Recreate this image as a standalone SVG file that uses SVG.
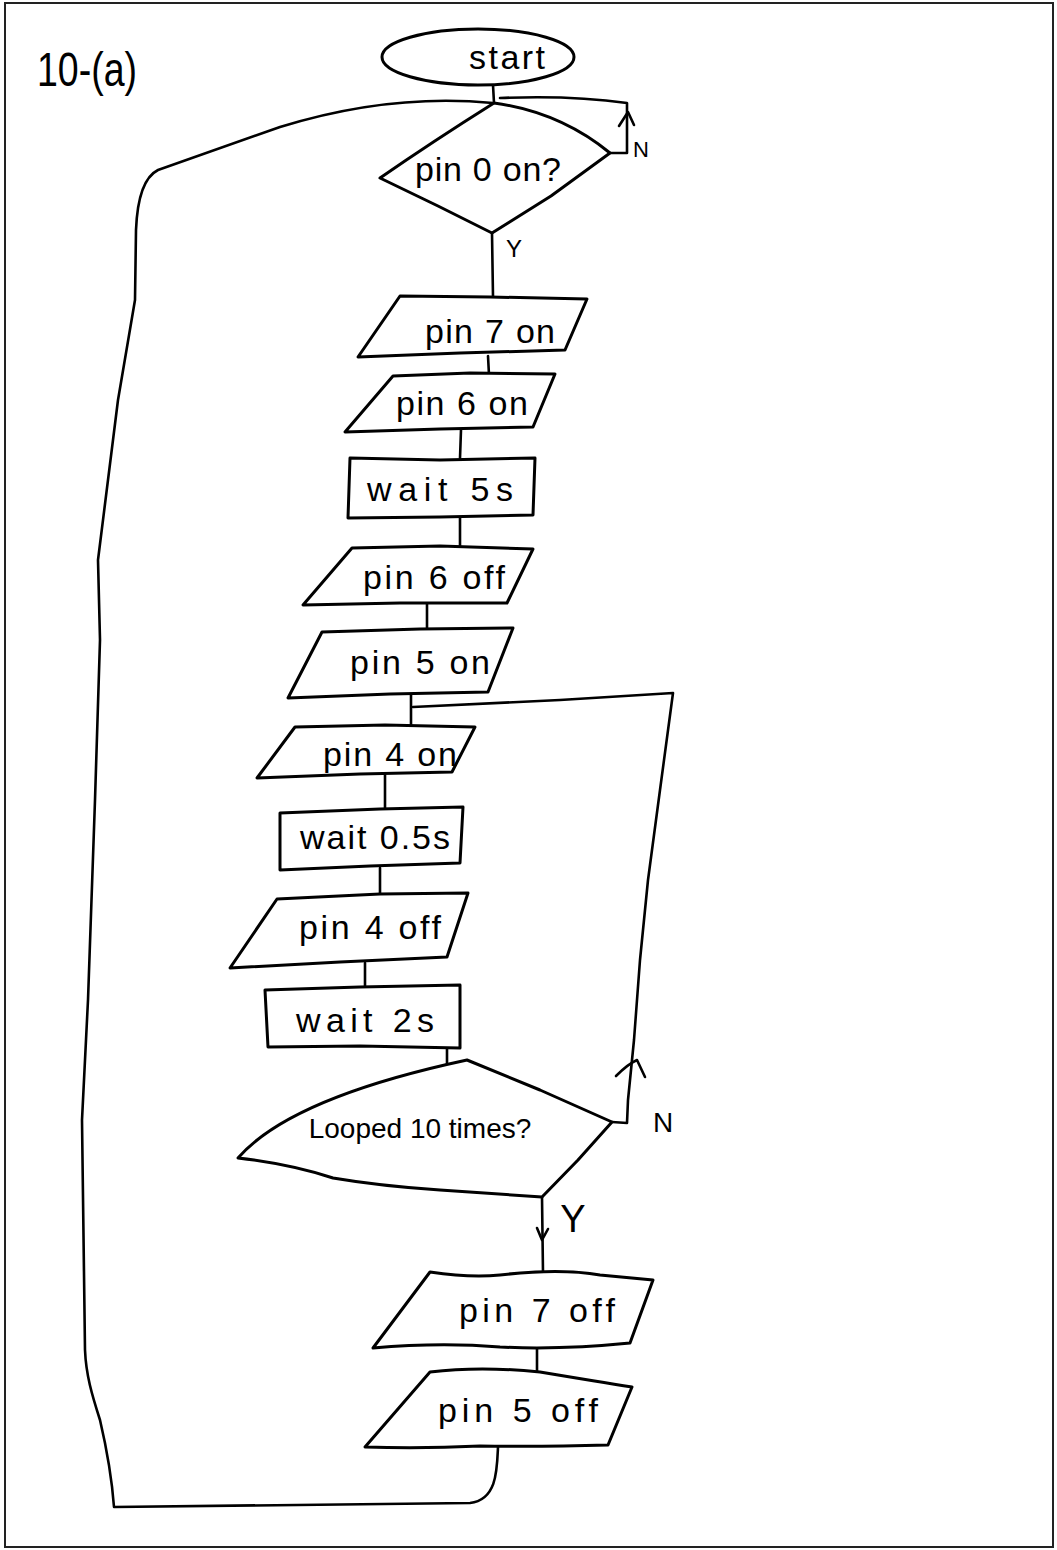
<svg xmlns="http://www.w3.org/2000/svg" width="1057" height="1550" viewBox="0 0 1057 1550">
  <style>
    .shape { fill: #fff; stroke: #000; stroke-width: 3; stroke-linejoin: round; stroke-linecap: round; }
    .link { fill: none; stroke: #000; stroke-width: 2.6; stroke-linejoin: round; stroke-linecap: round; }
    .label { font-family: "Liberation Sans", "DejaVu Sans", sans-serif; font-size: 34px; fill: #000; text-anchor: middle; }
    .label.small { font-size: 28px; }
    .yn { font-family: "Liberation Sans", "DejaVu Sans", sans-serif; fill: #000; text-anchor: middle; }
  </style>

  <!-- page frame -->
  <rect x="5" y="3" width="1048" height="1544" fill="#fff" stroke="#222" stroke-width="2"/>

  <!-- sheet heading -->
  <text x="37" y="86" font-family="Liberation Sans, DejaVu Sans, sans-serif" font-size="48" textLength="100" lengthAdjust="spacingAndGlyphs">10-(a)</text>

  <!-- connectors -->
  <g id="connectors">
    <!-- start to first decision -->
    <path class="link" d="M493,85 L494,103"/>
    <!-- N branch of pin 0 check loops back to the top -->
    <path class="link" d="M610,153 L627,153 L627,103 Q570,95 500,98"/>
    <path class="link" d="M619,126 L628,112 L634,125"/>
    <!-- Y branch -->
    <path class="link" d="M492,233 L493,297"/>
    <!-- main sequence -->
    <path class="link" d="M488,356 L489,375"/>
    <path class="link" d="M461,430 L460,458"/>
    <path class="link" d="M460,518 L460,548"/>
    <path class="link" d="M427,604 L427,631"/>
    <path class="link" d="M411,695 L411,727"/>
    <path class="link" d="M385,775 L385,810"/>
    <path class="link" d="M380,868 L380,896"/>
    <path class="link" d="M365,963 L365,989"/>
    <path class="link" d="M447,1048 L447,1066"/>
    <!-- N branch of the loop counter returns above pin 4 on -->
    <path class="link" d="M612,1122 L627,1123 L628,1100 L634,1040 L640,960 L648,880 L660,790 L673,693 L560,700 L413,707"/>
    <path class="link" d="M616,1076 Q628,1064 637,1060 L645,1077"/>
    <!-- Y branch of the loop counter -->
    <path class="link" d="M542,1197 L543,1273"/>
    <path class="link" d="M537,1228 L542,1240 L548,1229"/>
    <path class="link" d="M537,1346 L537,1373"/>
    <!-- return path from the last step to the top -->
    <path class="link" d="M498,1447 C497,1470 497,1500 470,1503 L114,1507 C112,1480 107,1450 100,1420 C92,1395 86,1375 85,1350 L82,1120 L88,1000 L95,800 L100,640 L98,560 L118,400 L135,300 L136,230 Q138,180 158,170 L280,127 Q390,93 493,103"/>
  </g>

  <!-- nodes -->
  <g id="start">
    <ellipse class="shape" cx="478" cy="57" rx="96" ry="28"/>
    <text class="label" x="507" y="69" textLength="76" lengthAdjust="spacing">start</text>
  </g>

  <g id="check-pin0">
    <path class="shape" d="M494,103 Q560,112 610,153 L551,196 L492,233 L438,206 L380,178 Q432,142 494,103 Z"/>
    <text class="label" x="488" y="181" textLength="146" lengthAdjust="spacing">pin 0 on?</text>
  </g>

  <g id="pin7-on">
    <path class="shape" d="M400,296 L490,297 L587,299 L565,350 L460,353 L358,357 Z"/>
    <text class="label" x="490" y="343" textLength="130" lengthAdjust="spacing">pin 7 on</text>
  </g>

  <g id="pin6-on">
    <path class="shape" d="M393,376 L470,373 L555,374 L533,427 L440,429 L345,432 Z"/>
    <text class="label" x="462" y="415" textLength="132" lengthAdjust="spacing">pin 6 on</text>
  </g>

  <g id="wait-5s">
    <path class="shape" d="M350,458 L440,460 L535,458 L533,515 L440,517 L348,518 Z"/>
    <text class="label" x="440" y="501" textLength="146" lengthAdjust="spacing">wait 5s</text>
  </g>

  <g id="pin6-off">
    <path class="shape" d="M352,548 L440,546 L533,549 L507,603 L400,603 L303,605 Z"/>
    <text class="label" x="434" y="589" textLength="142" lengthAdjust="spacing">pin 6 off</text>
  </g>

  <g id="pin5-on">
    <path class="shape" d="M322,632 L420,629 L513,628 L488,692 L390,694 L288,698 Z"/>
    <text class="label" x="420" y="674" textLength="140" lengthAdjust="spacing">pin 5 on</text>
  </g>

  <g id="pin4-on">
    <path class="shape" d="M295,727 L385,725 L475,727 L452,772 L360,774 L257,778 Z"/>
    <text class="label" x="390" y="766" textLength="134" lengthAdjust="spacing">pin 4 on</text>
  </g>

  <g id="wait-0-5s">
    <path class="shape" d="M280,813 L380,809 L463,807 L460,863 L370,866 L280,870 Z"/>
    <text class="label" x="375" y="849" textLength="150" lengthAdjust="spacing">wait 0.5s</text>
  </g>

  <g id="pin4-off">
    <path class="shape" d="M277,899 L380,894 L468,893 L447,957 L340,962 L230,968 Z"/>
    <text class="label" x="370" y="939" textLength="142" lengthAdjust="spacing">pin 4 off</text>
  </g>

  <g id="wait-2s">
    <path class="shape" d="M265,990 L360,987 L460,985 L460,1048 L360,1046 L268,1047 Z"/>
    <text class="label" x="365" y="1032" textLength="138" lengthAdjust="spacing">wait 2s</text>
  </g>

  <g id="check-loop">
    <path class="shape" d="M467,1060 L540,1090 L612,1122 L578,1160 L542,1197 L440,1190 Q380,1186 333,1178 Q290,1164 238,1158 Q290,1098 467,1060 Z"/>
    <text class="label small" x="420" y="1138">Looped 10 times?</text>
  </g>

  <g id="pin7-off">
    <path class="shape" d="M430,1272 Q470,1278 500,1275 Q560,1268 600,1275 L653,1280 L630,1343 Q560,1350 500,1347 Q440,1342 373,1348 Z"/>
    <text class="label" x="537" y="1322" textLength="156" lengthAdjust="spacing">pin 7 off</text>
  </g>

  <g id="pin5-off">
    <path class="shape" d="M430,1372 Q480,1366 540,1372 Q600,1382 632,1387 L608,1445 Q540,1447 480,1446 Q420,1449 365,1447 Z"/>
    <text class="label" x="518" y="1422" textLength="160" lengthAdjust="spacing">pin 5 off</text>
  </g>

  <!-- branch labels -->
  <text class="yn" x="641" y="157" font-size="22">N</text>
  <text class="yn" x="514" y="257" font-size="24">Y</text>
  <text class="yn" x="663" y="1132" font-size="28">N</text>
  <text class="yn" x="573" y="1232" font-size="38">Y</text>
</svg>
